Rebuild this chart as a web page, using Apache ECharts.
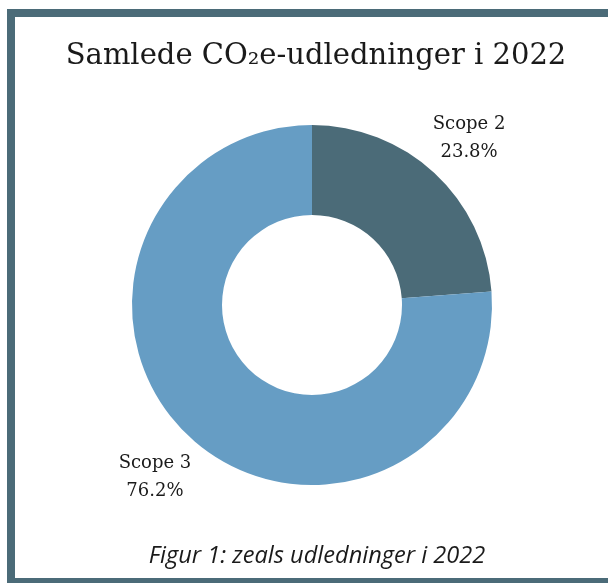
<!DOCTYPE html>
<html>
<head>
<meta charset="utf-8">
<script src="https://cdn.jsdelivr.net/npm/echarts@6/dist/echarts.min.js"></script>
<style>
  html, body { margin: 0; padding: 0; background: #ffffff; }
  #chart { width: 608px; height: 583px; }
</style>
</head>
<body>
<div id="chart"></div>
<script>
// Emission shares for 2022, in percent
const scopes = ['Scope 2', 'Scope 3'];
const shares = [23.8, 76.2];
const colors = ['#4b6b78', '#669dc4'];

const titleText = 'Samlede CO\u2082e-udledninger i 2022';
const captionText = 'Figur 1: zeals udledninger i 2022';

const CX = 312, CY = 305, R_IN = 90, R_OUT = 180, LABEL_R = 231;
const total = shares.reduce((a, b) => a + b, 0);

// mid-angle (degrees, counter-clockwise from +x) of each slice, starting at 12 o'clock going clockwise
function midAngle(i) {
  let before = 0;
  for (let k = 0; k < i; k++) before += shares[k];
  const mid = before + shares[i] / 2;
  return 90 - (mid / total) * 360;
}

const chart = echarts.init(document.getElementById('chart'), null, { renderer: 'canvas' });
chart.setOption({
  animation: false,
  backgroundColor: '#ffffff',
  graphic: [
    {
      type: 'rect',
      shape: { x: 11, y: 13, width: 640, height: 569 },
      style: { fill: null, stroke: '#4b6b78', lineWidth: 8 },
      silent: true
    },
    {
      type: 'text',
      x: 316, y: 56,
      style: {
        text: titleText,
        font: '29px "DejaVu Serif"',
        fill: '#1a1a1a',
        textAlign: 'center',
        textVerticalAlign: 'middle'
      }
    },
    {
      type: 'text',
      x: 317, y: 556,
      style: {
        text: captionText,
        font: 'italic 23.6px "Open Sans"',
        fill: '#1a1a1a',
        textAlign: 'center',
        textVerticalAlign: 'middle'
      }
    }
  ],
  series: [{
    type: 'pie',
    center: [CX, CY],
    radius: [R_IN, R_OUT],
    startAngle: 90,
    clockwise: true,
    avoidLabelOverlap: false,
    data: scopes.map((name, i) => ({ name, value: shares[i], itemStyle: { color: colors[i] } })),
    label: {
      show: true,
      position: 'outside',
      formatter: '{b}\n{c}%',
      fontFamily: 'DejaVu Serif',
      fontSize: 18,
      lineHeight: 28,
      color: '#1a1a1a',
      align: 'center'
    },
    labelLine: { show: false },
    labelLayout: function (p) {
      const a = midAngle(p.dataIndex) * Math.PI / 180;
      return {
        x: CX + LABEL_R * Math.cos(a),
        y: CY - LABEL_R * Math.sin(a) + 2.5,
        align: 'center',
        verticalAlign: 'middle'
      };
    },
    emphasis: { disabled: true }
  }]
});
</script>
</body>
</html>
